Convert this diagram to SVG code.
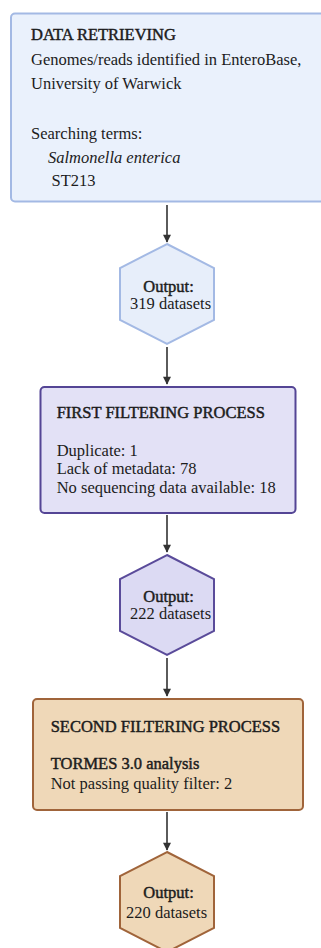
<svg xmlns="http://www.w3.org/2000/svg" width="321" height="948" viewBox="0 0 321 948">
<defs>
<style>
text{font-size:16.5px;fill:#1c1c1c}
.b{stroke:#1c1c1c;stroke-width:0.45}
.i{font-style:italic}
.blue{fill:#eaf1fc;stroke:#a3b9e4;stroke-width:2}
.hblue{fill:#e7eefa;stroke:#a3b9e4;stroke-width:2}
.purple{fill:#e3e1f6;stroke:#544595;stroke-width:2}
.hpurple{fill:#dcdaf3;stroke:#5a4b9a;stroke-width:2}
.tan{fill:#efd8b8;stroke:#a0643a;stroke-width:2}
.conn line{stroke:#333;stroke-width:1.6}
</style>
<marker id="ah" viewBox="0 0 10 10" refX="9" refY="5" markerWidth="9" markerHeight="8" markerUnits="userSpaceOnUse" orient="auto">
<path d="M0,0 L10,5 L0,10 z" fill="#333"/>
</marker>
<path id="hex" d="M0,0 L47,24 L47,76 L0,100 L-47,76 L-47,24 Z"/>
</defs>

<g id="connectors" class="conn">
<line x1="167" y1="205" x2="167" y2="242" marker-end="url(#ah)"/>
<line x1="167" y1="347" x2="167" y2="384" marker-end="url(#ah)"/>
<line x1="167" y1="515" x2="167" y2="552" marker-end="url(#ah)"/>
<line x1="167" y1="658" x2="167" y2="696" marker-end="url(#ah)"/>
<line x1="167" y1="812" x2="167" y2="850" marker-end="url(#ah)"/>
</g>

<g font-family="'Liberation Serif', Tinos, 'DejaVu Serif', serif">
<g id="data-retrieving">
<rect class="blue" x="11" y="13.5" width="330" height="188" rx="4"/>
<text x="31" y="40" class="b">DATA RETRIEVING</text>
<text x="31" y="65">Genomes/reads identified in EnteroBase,</text>
<text x="31" y="89">University of Warwick</text>
<text x="31" y="138.5">Searching terms:</text>
<text x="48" y="162.5" class="i">Salmonella enterica</text>
<text x="51.5" y="186">ST213</text>
</g>

<g id="output-319">
<use href="#hex" x="167" y="244" class="hblue"/>
<text x="143.3" y="291.7" class="b">Output:</text>
<text x="130" y="309">319 datasets</text>
</g>

<g id="first-filtering">
<rect class="purple" x="40.5" y="387" width="255" height="126" rx="4"/>
<text x="56.7" y="417.7" class="b">FIRST FILTERING PROCESS</text>
<text x="56.7" y="455.5">Duplicate: 1</text>
<text x="56.7" y="474.3">Lack of metadata: 78</text>
<text x="56.7" y="493.3">No sequencing data available: 18</text>
</g>

<g id="output-222">
<use href="#hex" x="167" y="555" class="hpurple"/>
<text x="143.3" y="601.7" class="b">Output:</text>
<text x="130" y="619">222 datasets</text>
</g>

<g id="second-filtering">
<rect class="tan" x="33" y="699" width="270" height="111" rx="4"/>
<text x="50.7" y="731.7" class="b">SECOND FILTERING PROCESS</text>
<text x="50.7" y="769" class="b">TORMES 3.0 analysis</text>
<text x="50.7" y="789">Not passing quality filter: 2</text>
</g>

<g id="output-220">
<use href="#hex" x="167" y="852" class="tan"/>
<text x="143.3" y="898.3" class="b">Output:</text>
<text x="126" y="917.7">220 datasets</text>
</g>
</g>
</svg>
